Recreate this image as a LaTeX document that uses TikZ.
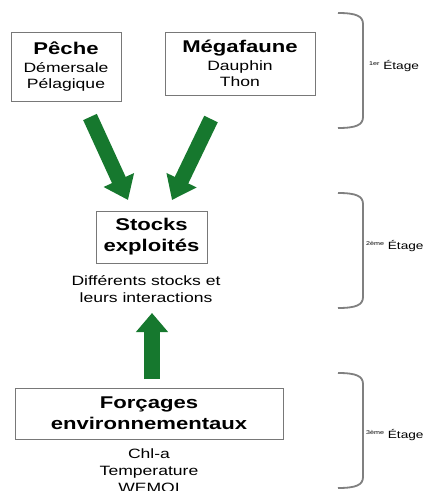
\documentclass[tikz,border=0pt]{standalone}
\usepackage{fontspec}
\setmainfont{Liberation Sans}[FakeStretch=1.3]
\usetikzlibrary{arrows.meta}
\definecolor{arrowgreen}{RGB}{22,120,46}
\definecolor{boxgray}{RGB}{120,120,120}
\definecolor{bracegray}{RGB}{128,128,128}
\tikzset{
  box/.style={draw=boxgray, line width=0.9pt, rectangle, inner sep=0pt, align=center,
    font=\fontsize{13.5}{16}\selectfont},
  titlebox/.style={draw=boxgray, line width=0.9pt, rectangle, inner sep=0pt, align=center,
    font=\bfseries\fontsize{17}{21}\selectfont},
  plain/.style={inner sep=0pt, align=center, font=\fontsize{13.5}{17}\selectfont},
  bigarrow/.style={draw=arrowgreen, line width=15pt, -{Triangle[length=22pt,width=32pt]}},
  brace/.style={draw=bracegray, line width=1.8pt},
  stage/.style={inner sep=0pt, font=\fontsize{10.5}{12}\selectfont, anchor=base west}
}
\newcommand{\ttl}[1]{{\bfseries\fontsize{17}{21}\selectfont #1}}
\newcommand{\supx}[1]{\raisebox{3.5pt}{\fontsize{5.5}{6}\selectfont #1}}
\begin{document}
\begin{tikzpicture}[x=1pt,y=-1pt]
\useasboundingbox (0,0) rectangle (430,491);
\fill[white] (0,0) rectangle (430,491);

% boxes
\node[box, minimum width=110pt, minimum height=69pt] (peche) at (66,66.5)
  {\ttl{Pêche}\\[2pt]Démersale\\Pélagique};
\node[box, minimum width=150pt, minimum height=63pt] (mega) at (240,63.5)
  {\ttl{Mégafaune}\\[2pt]Dauphin\\Thon};
\node[titlebox, minimum width=111pt, minimum height=52pt] (stocks) at (151.5,237)
  {Stocks\\exploités};
\node[plain] (stockstxt) at (146,289) {Différents stocks et\\leurs interactions};
\node[titlebox, minimum width=268pt, minimum height=51pt] (forc) at (149,413.5)
  {Forçages\\environnementaux};
\node[plain, anchor=north] (forctxt) at (149,449) {Chl-a\\Temperature\\WEMOI};

% arrows
\coordinate (a1s) at (90,117);
\coordinate (a1e) at (128,200);
\coordinate (a2s) at (211,119);
\coordinate (a2e) at (172,200);
\coordinate (a3s) at (152,379);
\coordinate (a3e) at (152,313);
\draw[bigarrow] (a1s) -- (a1e);
\draw[bigarrow] (a2s) -- (a2e);
\draw[draw=arrowgreen, line width=16pt, -{Triangle[length=19pt,width=31pt]}] (a3s) -- (a3e);

% braces
\foreach \t/\b in {13/128, 193/308, 373/488}{
  \draw[brace] (338,\t) .. controls (356,\t) and (363,\t+3) .. (363,\t+11)
    -- (363,\b-11) .. controls (363,\b-3) and (356,\b) .. (338,\b);
}
\node[stage] (s1) at (369,69) {\supx{1er} Étage};
\node[stage] (s2) at (366,249) {\supx{2ème} Étage};
\node[stage] (s3) at (366,438) {\supx{3ème} Étage};
\end{tikzpicture}
\end{document}
